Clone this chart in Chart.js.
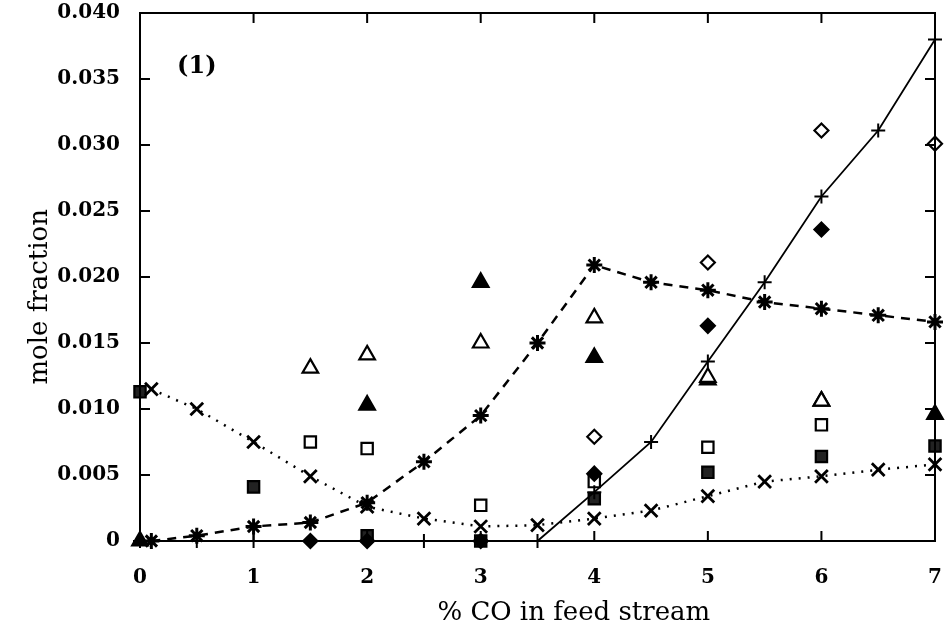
<!DOCTYPE html>
<html>
<head>
<meta charset="utf-8">
<script src="https://cdn.jsdelivr.net/npm/chart.js@4"></script>
<style>
  body { margin: 0; background: #fff; }
  #wrap { width: 952px; height: 640px; }
</style>
</head>
<body>
<div id="wrap"><canvas id="chart"></canvas></div>
<script>
// half-step positions used by the three line series
const xHalf = [0.1, 0.5, 1, 1.5, 2, 2.5, 3, 3.5, 4, 4.5, 5, 5.5, 6, 6.5, 7];
const xPlus = [0, 0.5, 1, 1.5, 2, 2.5, 3, 3.5, 4, 4.5, 5, 5.5, 6, 6.5, 7];

const crossDotted = [0.0115, 0.0100, 0.0075, 0.0049, 0.0026, 0.0017, 0.0011, 0.0012, 0.0017, 0.0023, 0.0034, 0.0045, 0.0049, 0.0054, 0.0058];
const starDashed  = [0, 0.0004, 0.0011, 0.0014, 0.0029, 0.0060, 0.0095, 0.0150, 0.0209, 0.0196, 0.0190, 0.0181, 0.0176, 0.0171, 0.0166];
const plusSolid   = [0, 0, 0, 0, 0, 0, 0, 0, 0.0037, 0.0075, 0.0136, 0.0196, 0.0261, 0.0311, 0.0380];

// scattered markers
const openDiamondX = [4, 5, 6, 7];
const openDiamondY = [0.0079, 0.0211, 0.0311, 0.0301];
const fillDiamondX = [1.5, 2, 3, 4, 5, 6];
const fillDiamondY = [0, 0, 0, 0.0051, 0.0163, 0.0236];
const openTriX = [1.5, 2, 3, 4, 5, 6];
const openTriY = [0.0131, 0.0141, 0.0150, 0.0169, 0.0124, 0.0106];
const fillTriX = [0, 2, 3, 4, 5, 6, 7];
const fillTriY = [0, 0.0103, 0.0196, 0.0139, 0.0122, 0.0106, 0.0096];
const openSqX = [1.5, 2, 3, 4, 5, 6];
const openSqY = [0.0075, 0.0070, 0.0027, 0.0045, 0.0071, 0.0088];
const fillSqX = [0, 1, 2, 3, 4, 5, 6, 7];
const fillSqY = [0.0113, 0.0041, 0.0004, 0, 0.0032, 0.0052, 0.0064, 0.0072];

const xTicks = [0, 1, 2, 3, 4, 5, 6, 7];
const yTicks = [0, 0.005, 0.010, 0.015, 0.020, 0.025, 0.030, 0.035, 0.040];

const xTitle = '% CO in feed stream';
const yTitle = 'mole fraction';

const pts = (xs, ys) => xs.map((x, i) => ({ x: x, y: ys[i] }));

const marker = (label, xs, ys, style, fill, r) => ({
    label: label,
    data: pts(xs, ys),
    showLine: false,
    clip: false,
    pointStyle: style,
    pointRadius: r,
    pointBorderColor: '#000',
    pointBackgroundColor: fill,
    pointBorderWidth: 2.2,
});

// inner tick marks, frame, axis titles and the "(1)" tag
const framePlugin = {
    id: 'frame',
    afterDatasetsDraw(chart) {
        const { ctx, chartArea: a, scales: { x, y } } = chart;
        ctx.save();
        ctx.strokeStyle = '#000';
        ctx.lineWidth = 2;
        ctx.strokeRect(a.left, a.top, a.right - a.left, a.bottom - a.top);
        ctx.beginPath();
        xTicks.forEach(v => {
            const px = x.getPixelForValue(v);
            ctx.moveTo(px, a.bottom); ctx.lineTo(px, a.bottom - 10);
            ctx.moveTo(px, a.top); ctx.lineTo(px, a.top + 10);
        });
        yTicks.forEach(v => {
            const py = y.getPixelForValue(v);
            ctx.moveTo(a.left, py); ctx.lineTo(a.left + 10, py);
            ctx.moveTo(a.right, py); ctx.lineTo(a.right - 10, py);
        });
        ctx.stroke();

        ctx.fillStyle = '#000';
        ctx.textAlign = 'center';
        ctx.textBaseline = 'middle';
        ctx.font = 'bold 24px "DejaVu Serif"';
        ctx.fillText('(1)', x.getPixelForValue(0.5), y.getPixelForValue(0.0359));

        ctx.font = '26px "DejaVu Serif"';
        ctx.fillText(xTitle, x.getPixelForValue(3.82), chart.height - 27);

        ctx.translate(40, y.getPixelForValue(0.0185));
        ctx.rotate(-Math.PI / 2);
        ctx.fillText(yTitle, 0, 0);
        ctx.restore();
    }
};

new Chart(document.getElementById('chart'), {
    type: 'scatter',
    data: {
        datasets: [
            {
                label: 'x',
                data: pts(xHalf, crossDotted),
                showLine: true,
                clip: false,
                borderColor: '#000',
                borderWidth: 2.5,
                borderDash: [2, 7],
                pointStyle: 'crossRot',
                pointRadius: 9,
                pointBorderColor: '#000',
                pointBorderWidth: 2.8,
            },
            {
                label: '*',
                data: pts(xHalf, starDashed),
                showLine: true,
                clip: false,
                borderColor: '#000',
                borderWidth: 2.5,
                borderDash: [9, 7],
                pointStyle: 'star',
                pointRadius: 8,
                pointBorderColor: '#000',
                pointBorderWidth: 3,
            },
            {
                label: '+',
                data: pts(xPlus, plusSolid),
                showLine: true,
                clip: false,
                borderColor: '#000',
                borderWidth: 1.8,
                pointStyle: 'cross',
                pointRadius: 7,
                pointBorderColor: '#000',
                pointBorderWidth: 2,
            },
            marker('open diamond', openDiamondX, openDiamondY, 'rectRot', '#fff', 7),
            marker('filled diamond', fillDiamondX, fillDiamondY, 'rectRot', '#000', 7),
            marker('open triangle', openTriX, openTriY, 'triangle', '#fff', 9),
            marker('filled triangle', fillTriX, fillTriY, 'triangle', '#000', 9),
            marker('open square', openSqX, openSqY, 'rect', '#fff', 8),
            marker('filled square', fillSqX, fillSqY, 'rect', '#222', 8),
        ]
    },
    options: {
        responsive: true,
        maintainAspectRatio: false,
        animation: false,
        layout: { padding: { top: 13, right: 17, left: 0, bottom: 0 } },
        plugins: {
            legend: { display: false },
            tooltip: { enabled: false },
        },
        scales: {
            x: {
                type: 'linear',
                min: 0,
                max: 7,
                afterFit: s => {
                    s.height = 99;
                    s.paddingLeft = 0; s.paddingRight = 0;
                },
                afterBuildTicks: s => { s.ticks = xTicks.map(v => ({ value: v })); },
                grid: { display: false, drawTicks: false },
                border: { display: false },
                ticks: {
                    color: '#000',
                    padding: 25,
                    font: { family: 'DejaVu Serif', size: 20, weight: 'bold' },
                },
            },
            y: {
                type: 'linear',
                min: 0,
                max: 0.04,
                afterFit: s => {
                    s.width = 140;
                    s.paddingTop = 0; s.paddingBottom = 0;
                },
                afterBuildTicks: s => { s.ticks = yTicks.map(v => ({ value: v })); },
                grid: { display: false, drawTicks: false },
                border: { display: false },
                ticks: {
                    color: '#000',
                    padding: 20,
                    font: { family: 'DejaVu Serif', size: 20, weight: 'bold' },
                    callback: v => v === 0 ? '0' : v.toFixed(3),
                },
            },
        },
    },
    plugins: [framePlugin],
});
</script>
</body>
</html>
